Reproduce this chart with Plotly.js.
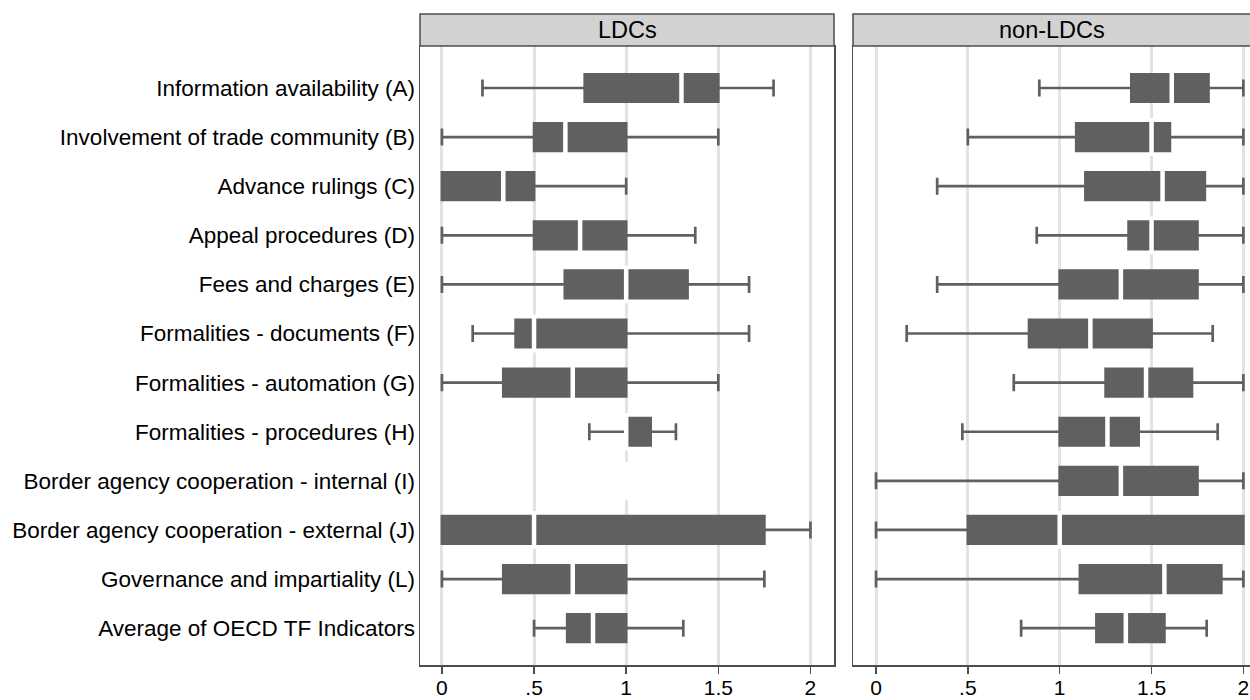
<!DOCTYPE html>
<html>
<head>
<meta charset="utf-8">
<script src="https://cdn.plot.ly/plotly-3.0.1.min.js"></script>
<style>
  html, body { margin: 0; padding: 0; background: #ffffff; }
  #chart { width: 1250px; height: 700px; }
</style>
</head>
<body>
<div id="chart"></div>
<script>
// ---- Data ----
const categories = [
  'Information availability (A)',
  'Involvement of trade community (B)',
  'Advance rulings (C)',
  'Appeal procedures (D)',
  'Fees and charges (E)',
  'Formalities - documents (F)',
  'Formalities - automation (G)',
  'Formalities - procedures (H)',
  'Border agency cooperation - internal (I)',
  'Border agency cooperation - external (J)',
  'Governance and impartiality (L)',
  'Average of OECD TF Indicators'
];

const panelTitles = ['LDCs', 'non-LDCs'];

// LDCs
const ldcMin = [0.22, 0,    0,     0,     0,     0.167, 0,     0.8,   1, 0,    0,     0.5 ];
const ldcQ1  = [0.775,0.5,  0,     0.5,   0.667, 0.4,   0.333, 1.0,   1, 0,    0.333, 0.68];
const ldcMed = [1.3,  0.67, 0.333, 0.75,  1.0,   0.5,   0.71,  1.0,   1, 0.5,  0.71,  0.82];
const ldcQ3  = [1.5,  1.0,  0.5,   1.0,   1.333, 1.0,   1.0,   1.133, 1, 1.75, 1.0,   1.0 ];
const ldcMax = [1.8,  1.5,  1.0,   1.375, 1.667, 1.667, 1.5,   1.27,  1, 2.0,  1.75,  1.31];

// non-LDCs
const nonMin = [0.889, 0.5,  0.333, 0.875, 0.333, 0.167, 0.75, 0.47, 0,     0,   0,    0.79];
const nonQ1  = [1.39,  1.09, 1.14,  1.375, 1.0,   0.833, 1.25, 1.0,  1.0,   0.5, 1.11, 1.2 ];
const nonMed = [1.61,  1.5,  1.56,  1.5,   1.333, 1.167, 1.47, 1.26, 1.333, 1.0, 1.57, 1.36];
const nonQ3  = [1.81,  1.6,  1.79,  1.75,  1.75,  1.5,   1.72, 1.43, 1.75,  2.0, 1.88, 1.57];
const nonMax = [2.0,   2.0,  2.0,   2.0,   2.0,   1.833, 2.0,  1.86, 2.0,   2.0, 2.0,  1.8 ];

const xTickVals = [0, 0.5, 1, 1.5, 2];
const xTickText = ['0', '.5', '1', '1.5', '2'];

// ---- Styles ----
const boxGray = '#606060';
const frameGray = '#4d4d4d';
const gridGray = '#e3e3e3';
const fontFam = '"Liberation Sans", Arial, sans-serif';

function boxTrace(q1, med, q3, lo, hi, xa, ya) {
  return {
    type: 'box', orientation: 'h',
    y: categories, q1: q1, median: med, q3: q3,
    lowerfence: lo, upperfence: hi,
    boxpoints: false,
    xaxis: xa, yaxis: ya,
    width: 0.56, whiskerwidth: 0.62,
    line: { color: boxGray, width: 2.7 },
    fillcolor: boxGray,
    hoverinfo: 'skip'
  };
}
function medTrace(med, xa, ya) {
  return {
    type: 'scatter', mode: 'markers',
    x: med, y: categories,
    xaxis: xa, yaxis: ya,
    marker: { symbol: 'line-ns', size: 27, color: '#ffffff',
              line: { color: '#ffffff', width: 4.5 } },
    hoverinfo: 'skip'
  };
}

const data = [
  boxTrace(ldcQ1, ldcMed, ldcQ3, ldcMin, ldcMax, 'x', 'y'),
  medTrace(ldcMed, 'x', 'y'),
  boxTrace(nonQ1, nonMed, nonQ3, nonMin, nonMax, 'x2', 'y2'),
  medTrace(nonMed, 'x2', 'y2')
];

const yRange = [11.75, -0.855];
const xCommon = {
  tickvals: xTickVals, ticktext: xTickText,
  ticks: 'outside', ticklen: 7, tickwidth: 1.5, tickcolor: frameGray,
  showgrid: true, gridcolor: gridGray, gridwidth: 3,
  zeroline: false, showline: true, mirror: true,
  linecolor: frameGray, linewidth: 1.5,
  tickfont: { family: fontFam, size: 21, color: '#000000' },
  ticklabelstandoff: -4,
  fixedrange: true
};
const yCommon = {
  type: 'category', categoryorder: 'array', categoryarray: categories,
  range: yRange, showgrid: false, zeroline: false,
  showline: true, mirror: true, linecolor: frameGray, linewidth: 1.5,
  ticks: '', fixedrange: true,
  tickfont: { family: fontFam, size: 22.5, color: '#000000' }
};

const headerTop = 1.0517;
const layout = {
  width: 1250, height: 700,
  margin: { l: 420, r: 0, t: 46, b: 35 },
  paper_bgcolor: '#ffffff', plot_bgcolor: '#ffffff',
  showlegend: false, hovermode: false,
  font: { family: fontFam, color: '#000000' },
  xaxis: Object.assign({}, xCommon, { domain: [0, 0.4988], range: [-0.119, 2.128], anchor: 'y' }),
  xaxis2: Object.assign({}, xCommon, { domain: [0.5217, 1], range: [-0.1252, 2.036], anchor: 'y2' }),
  yaxis: Object.assign({}, yCommon, { anchor: 'x', showticklabels: true, ticklabelstandoff: -1 }),
  yaxis2: Object.assign({}, yCommon, { anchor: 'x2', showticklabels: false }),
  shapes: [
    { type: 'rect', xref: 'x domain', yref: 'paper', x0: 0, x1: 1, y0: 1.0, y1: headerTop,
      fillcolor: '#d2d2d2', line: { color: frameGray, width: 1.5 }, layer: 'above' },
    { type: 'rect', xref: 'x2 domain', yref: 'paper', x0: 0, x1: 1.01, y0: 1.0, y1: headerTop,
      fillcolor: '#d2d2d2', line: { color: frameGray, width: 1.5 }, layer: 'above' }
  ],
  annotations: [
    { xref: 'x domain', yref: 'paper', x: 0.5, y: (1 + headerTop) / 2, text: panelTitles[0],
      showarrow: false, xanchor: 'center', yanchor: 'middle',
      font: { family: fontFam, size: 23.5, color: '#000000' } },
    { xref: 'x2 domain', yref: 'paper', x: 0.5, y: (1 + headerTop) / 2, text: panelTitles[1],
      showarrow: false, xanchor: 'center', yanchor: 'middle',
      font: { family: fontFam, size: 23.5, color: '#000000' } }
  ]
};

Plotly.newPlot('chart', data, layout, { displayModeBar: false, staticPlot: true });
</script>
</body>
</html>
